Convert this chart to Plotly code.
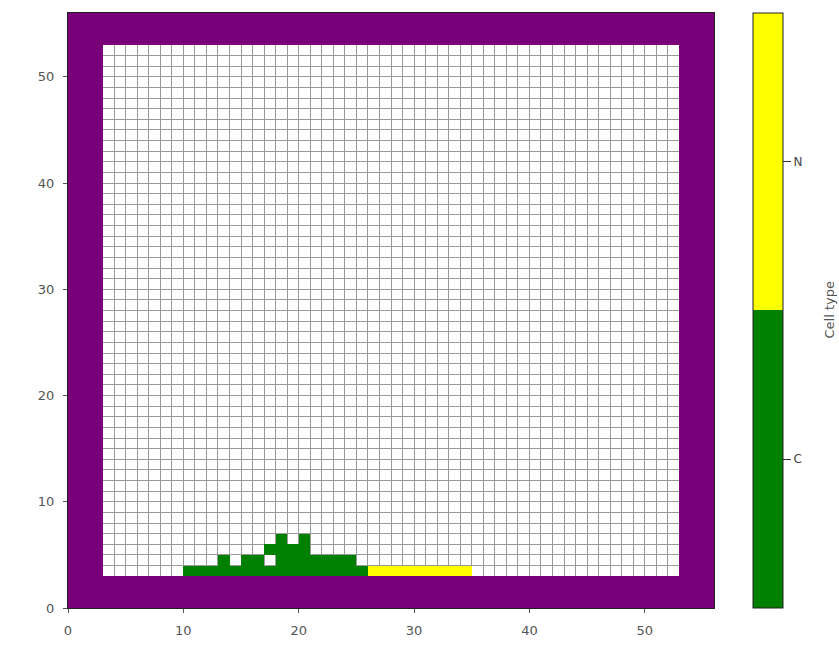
import numpy as np
import plotly.graph_objects as go

# ---- data ----
grid_size = 56
wall_width = 3
cell_type_names = ["C", "N"]
colorbar_title = "Cell type"
# C cells: (x, y) lattice positions
c_cells_x = list(range(10, 26)) + [13, 15, 16] + list(range(18, 25)) + [17, 18, 19, 20] + [18, 20]
c_cells_y = [3] * 16 + [4] * 3 + [4] * 7 + [5] * 4 + [6] * 2
# N cells
n_cells_x = list(range(26, 35))
n_cells_y = [3] * 9

# ---- build grids ----
wall = np.full((grid_size, grid_size), np.nan)
wall[:wall_width, :] = 1
wall[-wall_width:, :] = 1
wall[:, :wall_width] = 1
wall[:, -wall_width:] = 1

cells = np.full((grid_size, grid_size), np.nan)
for x, y in zip(c_cells_x, c_cells_y):
    cells[y, x] = 0
for x, y in zip(n_cells_x, n_cells_y):
    cells[y, x] = 1

fig = go.Figure()
fig.add_trace(go.Heatmap(
    z=wall, x0=0.5, dx=1, y0=0.5, dy=1,
    colorscale=[[0, "#7a007a"], [1, "#7a007a"]],
    showscale=False, hoverinfo="skip", zmin=0, zmax=1,
))
fig.add_trace(go.Heatmap(
    z=cells, x0=0.5, dx=1, y0=0.5, dy=1,
    zmin=-0.5, zmax=1.5,
    colorscale=[[0, "#008000"], [0.5, "#008000"], [0.5, "#ffff00"], [1, "#ffff00"]],
    colorbar=dict(
        tickvals=[0, 1], ticktext=cell_type_names,
        x=(753 - 68) / 646, xanchor="left", xpad=0,
        y=0.5, yanchor="middle", len=1, lenmode="fraction", ypad=0,
        thickness=30, thicknessmode="pixels",
        outlinewidth=1, outlinecolor="#222",
        ticks="outside", ticklen=8, tickcolor="#333",
        tickfont=dict(size=12, color="#444", family="DejaVu Sans"),
    ),
    hoverinfo="skip",
))

fig.add_annotation(
    text=colorbar_title, textangle=-90,
    xref="paper", yref="paper",
    x=(829 - 68) / 646, y=0.5, xanchor="center", yanchor="middle",
    showarrow=False,
    font=dict(size=13, color="#555", family="DejaVu Sans"),
)

axis_common = dict(
    range=[0, grid_size], tick0=0, dtick=10,
    showgrid=True, gridcolor="#999999", gridwidth=1,
    minor=dict(dtick=1, showgrid=True, gridcolor="#999999", gridwidth=1),
    ticks="outside", ticklen=4, tickcolor="#555",
    ticklabelstandoff=6,
    showline=True, linecolor="#222", linewidth=1, mirror=True,
    zeroline=False,
    tickfont=dict(size=13, color="#555", family="DejaVu Sans"),
)
fig.update_xaxes(**axis_common)
fig.update_yaxes(**axis_common)

fig.update_layout(
    width=839, height=650,
    margin=dict(l=68, r=125, t=12, b=39),
    plot_bgcolor="white", paper_bgcolor="white",
    font=dict(family="DejaVu Sans"),
)
fig.write_html("out.html")
